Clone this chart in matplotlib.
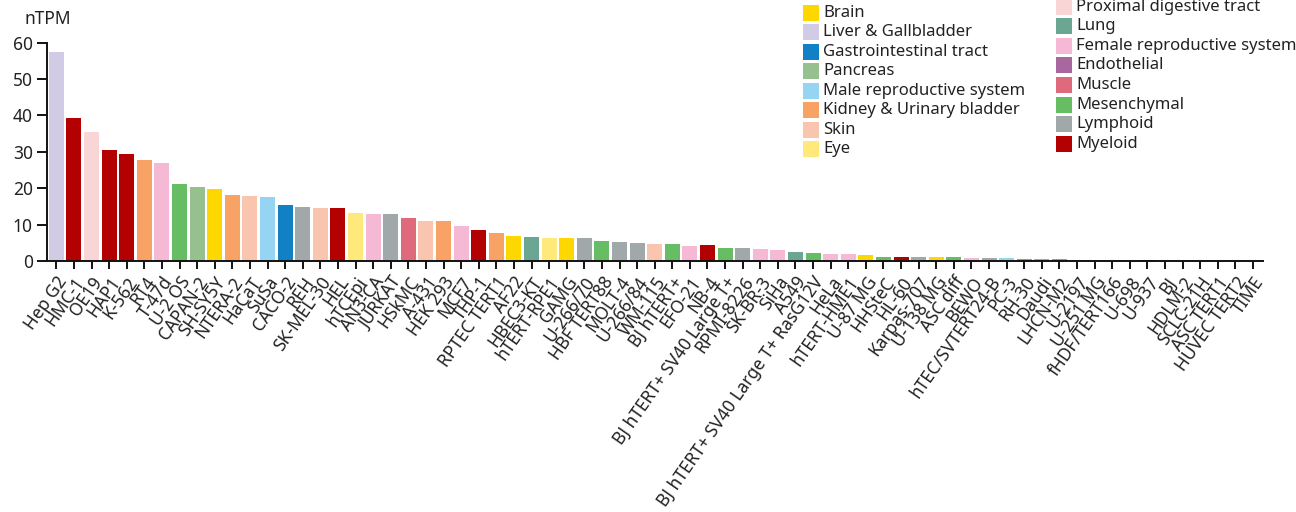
import matplotlib
matplotlib.use("Agg")
import matplotlib.pyplot as plt
from matplotlib.patches import Rectangle

# Cell lines ordered by expression
cell_lines = [
    "Hep G2", "HMC-1", "OE19", "HAP1", "K-562", "RT4", "T-47d", "U-2 OS",
    "CAPAN-2", "SH-SY5Y", "NTERA-2", "HaCaT", "SuSa", "CACO-2", "REH",
    "SK-MEL-30", "HEL", "hTCEpi", "AN3-CA", "JURKAT", "HSkMC", "A-431",
    "HEK 293", "MCF7", "THP-1", "RPTEC TERT1", "AF22", "HBEC3-KT",
    "hTERT-RPE1", "GAMG", "U-266/70", "HBF TERT88", "MOLT-4", "U-266/84",
    "WM-115", "BJ hTERT+", "EFO-21", "NB-4", "BJ hTERT+ SV40 Large T+",
    "RPMI-8226", "SK-BR-3", "SiHa", "A549",
    "BJ hTERT+ SV40 Large T+ RasG12V", "HeLa", "hTERT-HME1", "U-87 MG",
    "HHSteC", "HL-60", "Karpas-707", "U-138 MG", "ASC diff", "BEWO",
    "hTEC/SVTERT24-B", "PC-3", "RH-30", "Daudi", "LHCN-M2", "U-2197",
    "U-251 MG", "fHDF/TERT166", "U-698", "U-937", "BJ", "HDLM-2",
    "SCLC-21H", "ASC TERT1", "HUVEC TERT2", "TIME",
]

ntpm = [
    57.5, 39.4, 35.5, 30.6, 29.3, 27.7, 26.8, 21.1,
    20.2, 19.7, 18.1, 17.8, 17.5, 15.4, 14.8,
    14.6, 14.5, 13.2, 12.8, 12.8, 11.9, 11.0,
    11.0, 9.6, 8.4, 7.7, 6.9, 6.5,
    6.4, 6.4, 6.2, 5.6, 5.1, 5.0,
    4.8, 4.8, 4.2, 4.3, 3.7,
    3.5, 3.2, 3.1, 2.4,
    2.3, 2.0, 1.9, 1.6,
    1.2, 1.2, 1.0, 1.0, 1.0, 0.8,
    0.7, 0.7, 0.6, 0.5, 0.5, 0.2,
    0.4, 0.2, 0.1, 0.4, 0.0, 0.0,
    0.0, 0.0, 0.0, 0.0,
]

tissue = [
    "Liver & Gallbladder", "Myeloid", "Proximal digestive tract", "Myeloid",
    "Myeloid", "Kidney & Urinary bladder", "Female reproductive system",
    "Mesenchymal", "Pancreas", "Brain", "Kidney & Urinary bladder", "Skin",
    "Male reproductive system", "Gastrointestinal tract", "Lymphoid", "Skin",
    "Myeloid", "Eye", "Female reproductive system", "Lymphoid", "Muscle",
    "Skin", "Kidney & Urinary bladder", "Female reproductive system",
    "Myeloid", "Kidney & Urinary bladder", "Brain", "Lung", "Eye", "Brain",
    "Lymphoid", "Mesenchymal", "Lymphoid", "Lymphoid", "Skin", "Mesenchymal",
    "Female reproductive system", "Myeloid", "Mesenchymal", "Lymphoid",
    "Female reproductive system", "Female reproductive system", "Lung",
    "Mesenchymal", "Female reproductive system", "Female reproductive system",
    "Brain", "Mesenchymal", "Myeloid", "Lymphoid", "Brain", "Mesenchymal",
    "Female reproductive system", "Lymphoid", "Male reproductive system",
    "Mesenchymal", "Lymphoid", "Mesenchymal", "Mesenchymal", "Brain",
    "Mesenchymal", "Lymphoid", "Myeloid", "Mesenchymal", "Lymphoid", "Lung",
    "Mesenchymal", "Endothelial", "Endothelial",
]

palette = {
    "Brain": "#FFD700",
    "Liver & Gallbladder": "#D1CBE5",
    "Gastrointestinal tract": "#1280C4",
    "Pancreas": "#96C08E",
    "Male reproductive system": "#95D4F3",
    "Kidney & Urinary bladder": "#F9A266",
    "Skin": "#FAC5AE",
    "Eye": "#FFE97A",
    "Proximal digestive tract": "#F9D5D5",
    "Lung": "#6AA692",
    "Female reproductive system": "#F5B9D5",
    "Endothelial": "#A8679F",
    "Muscle": "#DE6A7B",
    "Mesenchymal": "#66BD63",
    "Lymphoid": "#A1A8AA",
    "Myeloid": "#B30000",
}

legend_left = ["Brain", "Liver & Gallbladder", "Gastrointestinal tract",
               "Pancreas", "Male reproductive system",
               "Kidney & Urinary bladder", "Skin", "Eye"]
legend_right = ["Proximal digestive tract", "Lung",
                "Female reproductive system", "Endothelial", "Muscle",
                "Mesenchymal", "Lymphoid", "Myeloid"]

y_ticks = [0, 10, 20, 30, 40, 50, 60]

plt.rcParams["font.family"] = ["Noto Sans", "DejaVu Sans"]
TEXT = "#222222"

W, H = 1296, 512
fig = plt.figure(figsize=(W / 100, H / 100), dpi=100)


def fx(px):
    return px / W


def fy(py):
    return 1 - py / H


ax = fig.add_axes([fx(46.7), fy(261), fx(1262.7) - fx(46.7), fy(42.5) - fy(261)])
xpos = list(range(len(cell_lines)))
ax.bar(xpos, ntpm, width=0.85, color=[palette[t] for t in tissue],
       linewidth=0, zorder=2)

ax.set_xlim(-0.55, len(cell_lines) - 0.45)
ax.set_ylim(0, 60)
for s in ("top", "right"):
    ax.spines[s].set_visible(False)
for s in ("left", "bottom"):
    ax.spines[s].set_linewidth(1.4)
    ax.spines[s].set_color("#111111")
    ax.spines[s].set_zorder(3)

ax.set_yticks(y_ticks)
ax.set_yticklabels([str(v) for v in y_ticks], fontsize=12.5, color=TEXT)
ax.tick_params(axis="y", length=7, width=1.4, color="#111111", pad=3)

ax.set_xticks(xpos)
ax.set_xticklabels(cell_lines, rotation=55, ha="right",
                   rotation_mode="anchor", fontsize=12.5, color=TEXT)
ax.tick_params(axis="x", length=6, width=1.4, color="#111111", pad=3)

fig.text(fx(25), fy(19), "nTPM", fontsize=12.5, color=TEXT, va="center", ha="left")

# Two-column tissue legend in the upper right
sw = 16
for i, name in enumerate(legend_left):
    cy = 13 + i * 19.45
    fig.patches.append(Rectangle((fx(803), fy(cy + sw / 2)), fx(sw), fy(0) - fy(sw),
                                 transform=fig.transFigure,
                                 color=palette[name], linewidth=0))
    fig.text(fx(823), fy(cy), name, fontsize=12, color=TEXT,
             va="center", ha="left")
for i, name in enumerate(legend_right):
    cy = 6.8 + i * 19.55
    fig.patches.append(Rectangle((fx(1056), fy(cy + sw / 2)), fx(sw), fy(0) - fy(sw),
                                 transform=fig.transFigure,
                                 color=palette[name], linewidth=0))
    fig.text(fx(1076), fy(cy), name, fontsize=12, color=TEXT,
             va="center", ha="left")

fig.savefig("out.png", dpi=100, facecolor="white")
